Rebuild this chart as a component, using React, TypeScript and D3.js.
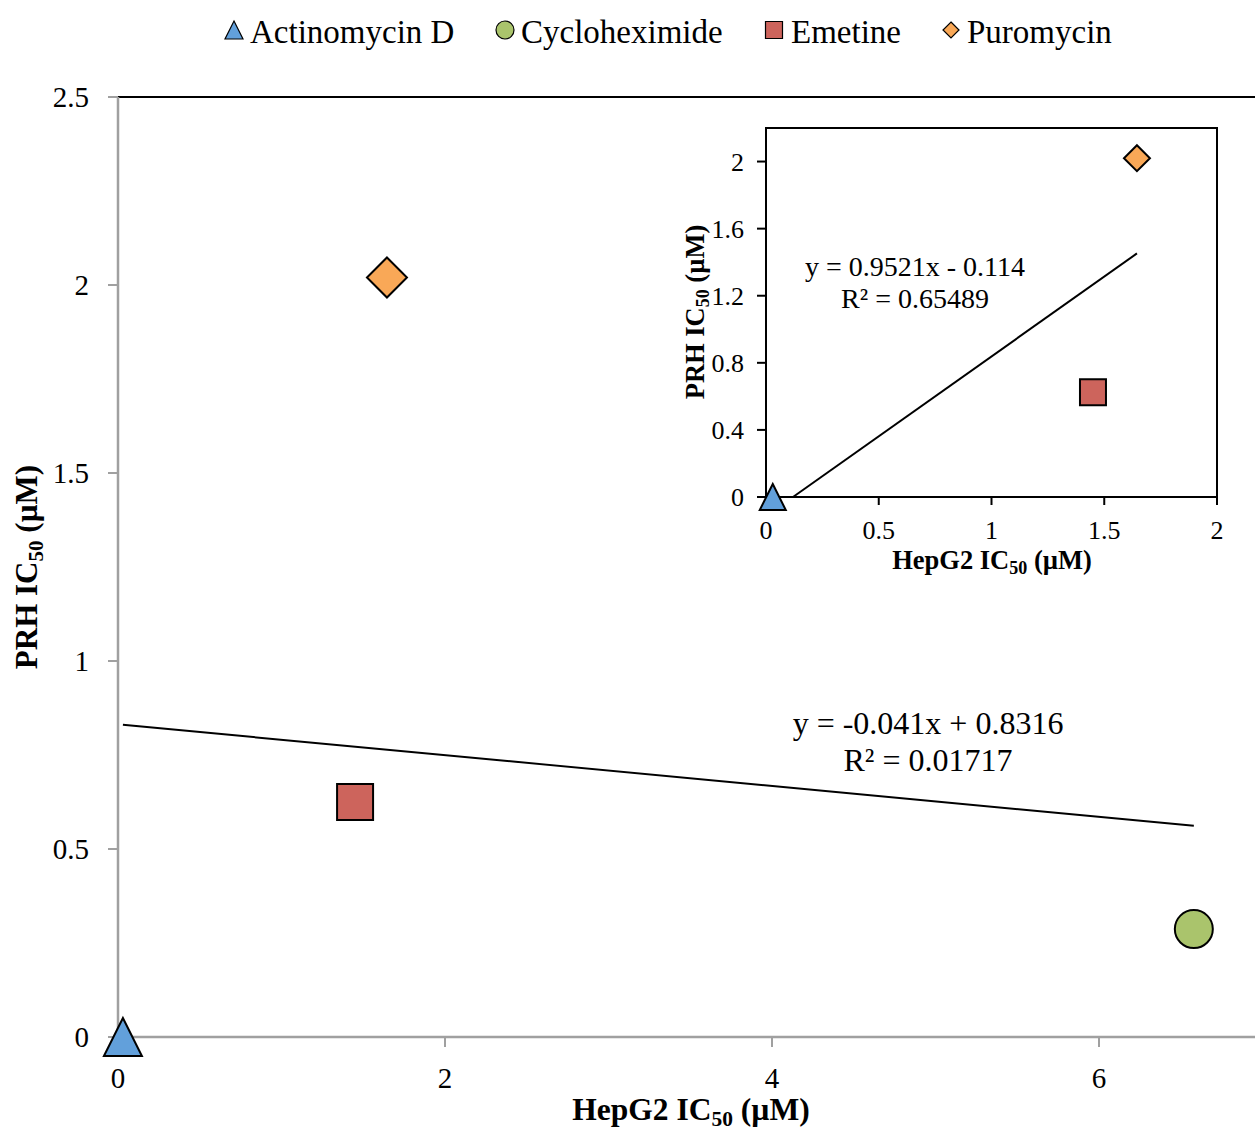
import React from "react";
import * as d3 from "d3";

const drugs = ["Actinomycin D", "Cycloheximide", "Emetine", "Puromycin"];
const shapes = ["triangle", "circle", "square", "diamond"];
const colors = ["#62a0db", "#aac46c", "#cd645c", "#f9a857"];
const hepg2 = [0.03, 6.58, 1.45, 1.645];
const prh = [0.0, 0.287, 0.625, 2.02];
const insetDrugs = ["Actinomycin D", "Emetine", "Puromycin"];

const mainXTicks = [0, 2, 4, 6];
const mainYTicks = [0, 0.5, 1, 1.5, 2, 2.5];
const insetXTicks = [0, 0.5, 1, 1.5, 2];
const insetYTicks = [0, 0.4, 0.8, 1.2, 1.6, 2];

const mainFit = { slope: -0.041, intercept: 0.8316, eq: "y = -0.041x + 0.8316", r2: "R² = 0.01717" };
const insetFit = { slope: 0.9521, intercept: -0.114, eq: "y = 0.9521x - 0.114", r2: "R² = 0.65489" };

const FONT = "'Liberation Serif', 'Times New Roman', serif";

function markerPath(shape: string, cx: number, cy: number, s: number): string {
  const h = s / 2;
  if (shape === "triangle") {
    return `M${cx},${cy - h}L${cx + h},${cy + h}L${cx - h},${cy + h}Z`;
  }
  if (shape === "square") {
    return `M${cx - h},${cy - h}L${cx + h},${cy - h}L${cx + h},${cy + h}L${cx - h},${cy + h}Z`;
  }
  if (shape === "diamond") {
    return `M${cx},${cy - h}L${cx + h},${cy}L${cx},${cy + h}L${cx - h},${cy}Z`;
  }
  const p = d3.path();
  p.arc(cx, cy, h, 0, Math.PI * 2);
  p.closePath();
  return p.toString();
}

function Title({ x, y, size, rotate, pre, sub, post, anchor = "middle" }: any) {
  return (
    <text
      x={x}
      y={y}
      fontFamily={FONT}
      fontWeight="bold"
      fontSize={size}
      textAnchor={anchor}
      transform={rotate ? `rotate(-90 ${x} ${y})` : undefined}
    >
      <tspan>{pre}</tspan>
      <tspan fontSize={size * 0.68} dy={size * 0.2}>{sub}</tspan>
      <tspan dy={-size * 0.2}>{post}</tspan>
    </text>
  );
}

export default function App() {
  const W = 1255;
  const H = 1131;
  const x = d3.scaleLinear().domain([0, 7]).range([118, 118 + 7 * 163.5]);
  const y = d3.scaleLinear().domain([0, 2.5]).range([1037, 97]);
  const ix = d3.scaleLinear().domain([0, 2]).range([766, 1217]);
  const iy = d3.scaleLinear().domain([0, 2.2]).range([497, 128]);

  const xmin = d3.min(hepg2)!;
  const xmax = d3.max(hepg2)!;
  const mainLine = d3.line<number>().x((v) => x(v)).y((v) => y(mainFit.slope * v + mainFit.intercept));

  const insetIdx = insetDrugs.map((d) => drugs.indexOf(d));
  const insetXs = insetIdx.map((i) => hepg2[i]);
  const ixStart = Math.max(d3.min(insetXs)!, -insetFit.intercept / insetFit.slope);
  const ixEnd = d3.max(insetXs)!;
  const insetLine = d3.line<number>().x((v) => ix(v)).y((v) => iy(insetFit.slope * v + insetFit.intercept));

  const legendPos = [
    { mx: 234, tx: 250 },
    { mx: 505, tx: 521 },
    { mx: 774, tx: 791 },
    { mx: 951, tx: 967 },
  ];
  const legendSizes = [18, 18, 17, 16];

  const gray = "#a0a0a0";

  return (
    <svg width={W} height={H} style={{ position: "absolute", left: 0, top: 0, background: "#fff" }}>
      <rect x={0} y={0} width={W} height={H} fill="#fff" />
      {/* legend */}
      {drugs.map((d, i) => (
        <g key={d}>
          <path d={markerPath(shapes[i], legendPos[i].mx, 30, legendSizes[i])} fill={colors[i]} stroke="#000" strokeWidth={1.2} />
          <text x={legendPos[i].tx} y={43} fontFamily={FONT} fontSize={33}>{d}</text>
        </g>
      ))}

      {/* main plot frame */}
      <line x1={118} x2={W} y1={97} y2={97} stroke="#000" strokeWidth={2} />
      <line x1={118} x2={118} y1={97} y2={1037} stroke={gray} strokeWidth={2.5} />
      <line x1={118} x2={W} y1={1037} y2={1037} stroke={gray} strokeWidth={2.5} />
      {mainYTicks.map((t) => (
        <g key={"my" + t}>
          <line x1={108} x2={118} y1={y(t)} y2={y(t)} stroke={gray} strokeWidth={2} />
          <text x={89} y={y(t) + 10} textAnchor="end" fontFamily={FONT} fontSize={29}>{String(t)}</text>
        </g>
      ))}
      {mainXTicks.map((t) => (
        <g key={"mx" + t}>
          <line x1={x(t)} x2={x(t)} y1={1037} y2={1047} stroke={gray} strokeWidth={2} />
          <text x={x(t)} y={1088} textAnchor="middle" fontFamily={FONT} fontSize={29}>{String(t)}</text>
        </g>
      ))}
      <Title x={691} y={1120} size={31.5} pre="HepG2 IC" sub="50" post=" (µM)" />
      <Title x={37} y={567} size={31} rotate pre="PRH IC" sub="50" post=" (µM)" />

      {/* main trendline */}
      <path d={mainLine([xmin, xmax]) || ""} fill="none" stroke="#000" strokeWidth={2} />
      <text x={928} y={734} textAnchor="middle" fontFamily={FONT} fontSize={32}>{mainFit.eq}</text>
      <text x={928} y={771} textAnchor="middle" fontFamily={FONT} fontSize={32}>{mainFit.r2}</text>

      {/* main markers */}
      {drugs.map((d, i) => {
        const sz = [38, 38, 36, 40][i];
        return (
          <path key={"mm" + d} d={markerPath(shapes[i], x(hepg2[i]), y(prh[i]), sz)} fill={colors[i]} stroke="#000" strokeWidth={2} />
        );
      })}

      {/* inset */}
      <rect x={766} y={128} width={451} height={369} fill="#fff" stroke="#000" strokeWidth={2} />
      {insetYTicks.map((t) => (
        <g key={"iy" + t}>
          <line x1={757} x2={766} y1={iy(t)} y2={iy(t)} stroke="#000" strokeWidth={2} />
          <text x={744} y={iy(t) + 9} textAnchor="end" fontFamily={FONT} fontSize={26}>{String(t)}</text>
        </g>
      ))}
      {insetXTicks.map((t) => (
        <g key={"ix" + t}>
          <line x1={ix(t)} x2={ix(t)} y1={497} y2={505} stroke="#000" strokeWidth={2} />
          <text x={ix(t)} y={539} textAnchor="middle" fontFamily={FONT} fontSize={26}>{String(t)}</text>
        </g>
      ))}
      <Title x={992} y={569} size={26.5} pre="HepG2 IC" sub="50" post=" (µM)" />
      <Title x={704} y={312} size={26.5} rotate pre="PRH IC" sub="50" post=" (µM)" />
      <path d={insetLine([ixStart, ixEnd]) || ""} fill="none" stroke="#000" strokeWidth={2} />
      <text x={915} y={276} textAnchor="middle" fontFamily={FONT} fontSize={28}>{insetFit.eq}</text>
      <text x={915} y={308} textAnchor="middle" fontFamily={FONT} fontSize={28}>{insetFit.r2}</text>
      {insetIdx.map((i) => (
        <path key={"im" + i} d={markerPath(shapes[i], ix(hepg2[i]), iy(prh[i]), 26)} fill={colors[i]} stroke="#000" strokeWidth={2} />
      ))}
    </svg>
  );
}
